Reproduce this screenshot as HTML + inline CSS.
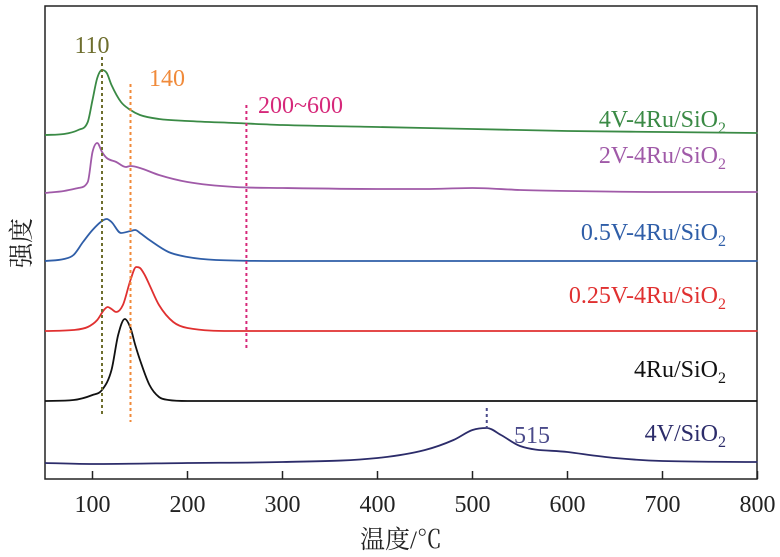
<!DOCTYPE html>
<html><head><meta charset="utf-8"><style>
body{margin:0;background:#fff;}
svg{display:block;font-family:"Liberation Serif","Noto Serif CJK SC",serif;}
</style></head><body>
<svg id="chart" width="780" height="557" viewBox="0 0 780 557">
<rect x="45" y="6" width="712" height="473" fill="none" stroke="#222" stroke-width="1.5"/>
<g id="ticks"></g>
<g id="series"></g>
<g id="marks"></g>
<text x="401" y="548" font-size="25" text-anchor="middle" fill="#222">温度/℃</text>
<text transform="translate(30,243) rotate(-90)" font-size="25" text-anchor="middle" fill="#222">强度</text>
</svg>
<script>
const xTicks=[100,200,300,400,500,600,700,800];
const seriesNames=["4V-4Ru/SiO2","2V-4Ru/SiO2","0.5V-4Ru/SiO2","0.25V-4Ru/SiO2","4Ru/SiO2","4V/SiO2"];
const seriesColors=["#3a8a45","#a05aa8","#2f5ea8","#e03030","#111111","#2c2c6a"];
const seriesOffsets=[135,193,261,331,401,463];
const t0=[50,70,85,95,100,105,110,115,120,130,140,150,170,200,250,300,400,500,600,700,800];
const v0=[0,1,5,13,35,57,65,62,50,33,25,20,16,14,12,10,8,6,4,3,2];
const t1=[50,70,85,95,100,105,110,115,125,135,140,150,170,200,250,300,400,450,500,550,600,700,800];
const v1=[0,2,5,11,41,50,41,35,31,26,27,25,18,11,6,5,4,4,5,3,2,1,1];
const t2=[50,70,80,90,100,110,115,120,130,140,145,150,160,180,200,230,300,800];
const v2=[0,2,6,19,31,40,42,39,28,30,31,28,21,9,4,1,0,0];
const t3=[50,80,95,105,112,116,120,125,132,140,146,150,155,160,170,185,200,250,800];
const v3=[0,1,4,11,21,24,22,19,26,51,64,63,56,46,26,9,3,0,0];
const t4=[50,80,100,110,120,127,134,140,145,150,160,170,180,200,800];
const v4=[0,1,6,11,31,66,82,73,56,41,16,4,1,0,0];
const t5=[50,100,200,300,400,450,480,500,515,530,550,600,650,700,800];
const v5=[0,-1,0,1,5,13,23,33,35,28,17,11,5,2,1];
const temps=[t0,t1,t2,t3,t4,t5];
const vals=[v0,v1,v2,v3,v4,v5];
const labelY=[127,163,240,303,377,441];
const refLines=[110,140,262,515];
const refLabels=["110","140","200~600","515"];

const NS="http://www.w3.org/2000/svg";
const xs=t=>45+(t-50)*0.95;
const ys=(i,v)=>seriesOffsets[i]-v;
function mk(tag,attrs,parent){const e=document.createElementNS(NS,tag);for(const k in attrs)e.setAttribute(k,attrs[k]);parent.appendChild(e);return e;}
const gT=document.getElementById('ticks'),gS=document.getElementById('series'),gM=document.getElementById('marks');
xTicks.forEach(t=>{
  const l=mk('line',{x1:xs(t),x2:xs(t),y1:479,y2:471,stroke:'#222','stroke-width':1.5},gT);
  
  
  const tx=mk('text',{x:xs(t),y:512,'font-size':24,'text-anchor':'middle',fill:'#222'},gT);
  tx.textContent=t;
  
  
});
// monotone cubic (Fritsch-Carlson)
function monotone(x,y){
  const n=x.length,d=[],m=[];
  for(let i=0;i<n-1;i++)d.push((y[i+1]-y[i])/(x[i+1]-x[i]));
  m[0]=d[0];m[n-1]=d[n-2];
  for(let i=1;i<n-1;i++)m[i]=(d[i-1]*d[i]<=0)?0:(d[i-1]+d[i])/2;
  for(let i=0;i<n-1;i++){
    if(d[i]===0){m[i]=0;m[i+1]=0;continue;}
    const a=m[i]/d[i],b=m[i+1]/d[i],s=a*a+b*b;
    if(s>9){const t=3/Math.sqrt(s);m[i]=t*a*d[i];m[i+1]=t*b*d[i];}
  }
  let p=`M${x[0]},${y[0]}`;
  for(let i=0;i<n-1;i++){
    const h=(x[i+1]-x[i])/3;
    p+=`C${x[i]+h},${y[i]+m[i]*h} ${x[i+1]-h},${y[i+1]-m[i+1]*h} ${x[i+1]},${y[i+1]}`;
  }
  return p;
}
seriesNames.forEach((n,i)=>{
  const X=temps[i].map(xs),Y=vals[i].map(v=>ys(i,v));
  const p=mk('path',{d:monotone(X,Y),fill:'none',stroke:seriesColors[i],'stroke-width':1.8},gS);
  
  
  const tx=mk('text',{x:726,y:labelY[i],'font-size':24,'text-anchor':'end',fill:seriesColors[i]},gS);
  
  
  tx.innerHTML=n.replace('SiO2','SiO<tspan font-size="16" dy="6">2</tspan>');
});
const refCol=["#6e6e2e","#f08a3a","#d6287a","#4a4a8a"];
const refY=[[57,415],[84,422],[105,350],[408,432]];
const refLab=[[92,53,'middle'],[167,86,'middle'],[258,113,'start'],[514,443,'start']];
refLines.forEach((t,i)=>{
  const l=mk('line',{x1:xs(t),x2:xs(t),y1:refY[i][0],y2:refY[i][1],stroke:refCol[i],'stroke-width':2,'stroke-dasharray':'3,3'},gM);
  
  
  const tx=mk('text',{x:refLab[i][0],y:refLab[i][1],'font-size':24,'text-anchor':refLab[i][2],fill:refCol[i]},gM);
  tx.textContent=refLabels[i];
  
  
});
</script>
</body></html>
